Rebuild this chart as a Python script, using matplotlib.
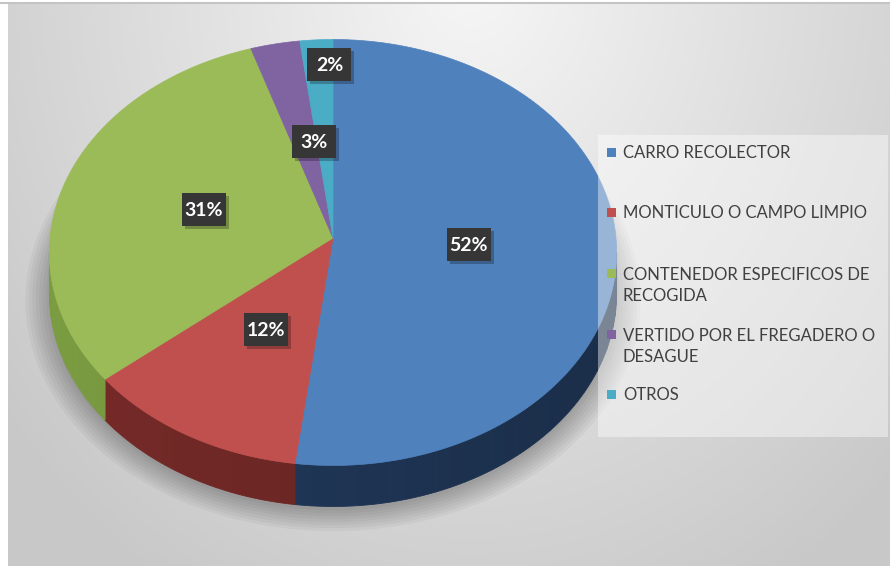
import numpy as np
import matplotlib.pyplot as plt
from matplotlib.patches import Polygon, Rectangle

#Data#
labels=['CARRO RECOLECTOR','MONTICULO O CAMPO LIMPIO','CONTENEDOR ESPECIFICOS DE\nRECOGIDA','VERTIDO POR EL FREGADERO O\nDESAGUE','OTROS']
values=[52,12,31,3,2]
colors=['#4F81BD','#C0504D','#9BBB59','#8064A2','#4BACC6']
side_colors=['#1E3453','#6A2624','#6E8C3A','#4E3C69','#2C7286']
#/Data#

#Layout (pixels)#
W,H=890,571
cx,cy=333,238 #pie vertex on screen
a,b,k=283,212,0.068 #half axes + perspective factor
depth=41
label_r=[0.48,0.48,0.48,0.48,0.87]
label_dx=[0,0,0,10,11]
box_w,box_h=44,33
legend_y=[153,213,285.5,346.5,395]
#/Layout#

def proj(u,v):
  s=1+k*v
  return cx+a*u/s, cy-b*v/s

def arc(t1,t2,n=120):
  t=np.radians(np.linspace(t1,t2,n))
  x,y=proj(np.cos(t),np.sin(t))
  return np.column_stack([x,y])

def mix(c,f):
  c=np.array(plt.matplotlib.colors.to_rgb(c))
  return tuple(np.clip(c*f,0,1))

fig=plt.figure(figsize=(W/100,H/100),dpi=100)
fig.patch.set_facecolor('white')
ax=fig.add_axes([0,0,1,1])
ax.set_xlim(0,W);ax.set_ylim(H,0);ax.axis('off')

#Background gradient#
gx,gy=np.meshgrid(np.arange(8,W),np.arange(4,566))
d=np.sqrt(((gx-470)/520.0)**2+((gy+20)/620.0)**2)
g=np.clip(246-40*d,200,246)/255.0
ax.imshow(np.dstack([g,g,g]),extent=(8,W,566,4),aspect='auto',zorder=0)
ax.plot([0,W],[3,3],color='#c4c4c4',lw=1.5,zorder=1)
#/Background#

#Angles#
total=float(sum(values))
starts=[];ends=[];s=90.0
for v in values:
  starts.append(s);s=s-360*v/total;ends.append(s)
#/Angles#

#Shadow under pie#
for i in range(8):
  sc=1.0+0.012*i
  t=np.radians(np.linspace(0,360,200))
  x,y=proj(sc*np.cos(t),sc*np.sin(t))
  ax.add_patch(Polygon(np.column_stack([x,y+depth+4]),closed=True,fc='black',ec='none',alpha=0.035,zorder=2))
#/Shadow#

#Side walls (strips, lighter toward the left)#
tf=np.degrees(np.arcsin(k))
for i in range(len(values)):
  for sh in (0,-360):
    lo=max(ends[i],-180+tf+sh);hi=min(starts[i],-tf+sh)
    if hi<=lo: continue
    edges=np.linspace(lo,hi,max(2,int((hi-lo)/3)+1))
    for j in range(len(edges)-1):
      top=arc(edges[j],edges[j+1],6)
      bot=top[::-1].copy();bot[:,1]+=depth
      mid=np.radians((edges[j]+edges[j+1])/2)
      f=1.0-0.12*np.cos(mid) #left (cos<0) a bit lighter
      c=mix(side_colors[i],f)
      ax.add_patch(Polygon(np.vstack([top,bot]),closed=True,fc=c,ec=c,lw=0.6,zorder=3))
#/Side walls#

#Top face#
for i in range(len(values)):
  pts=np.vstack([[proj(0,0)],arc(starts[i],ends[i])])
  ax.add_patch(Polygon(pts,closed=True,fc=colors[i],ec=colors[i],lw=0.5,zorder=4))
#/Top face#

#Data labels#
for i in range(len(values)):
  m=np.radians((starts[i]+ends[i])/2)
  x,y=proj(label_r[i]*np.cos(m),label_r[i]*np.sin(m))
  x=x+label_dx[i]
  txt=str(int(round(100*values[i]/total)))+'%'
  ax.add_patch(Rectangle((x-box_w/2+3,y-box_h/2+3),box_w,box_h,fc='black',ec='none',alpha=0.25,zorder=5))
  ax.add_patch(Rectangle((x-box_w/2,y-box_h/2),box_w,box_h,fc='#363636',ec='none',zorder=6))
  ax.text(x,y+1,txt,ha='center',va='center',color='white',fontsize=14,fontweight='bold',family='Lato',zorder=7)
#/Data labels#

#Legend#
ax.add_patch(Rectangle((598,135),290,302,fc='white',ec='none',alpha=0.42,zorder=8))
for i in range(len(labels)):
  my=legend_y[i]-5 if '\n' not in labels[i] else legend_y[i]-17
  ax.add_patch(Rectangle((607,my),9,9,fc=colors[i],ec='none',zorder=9))
  ax.text(623,legend_y[i],labels[i],ha='left',va='center',fontsize=12,family='Lato',color='#404040',linespacing=1.45,zorder=9)
#/Legend#

fig.savefig('out.png',dpi=100,facecolor=fig.get_facecolor())
